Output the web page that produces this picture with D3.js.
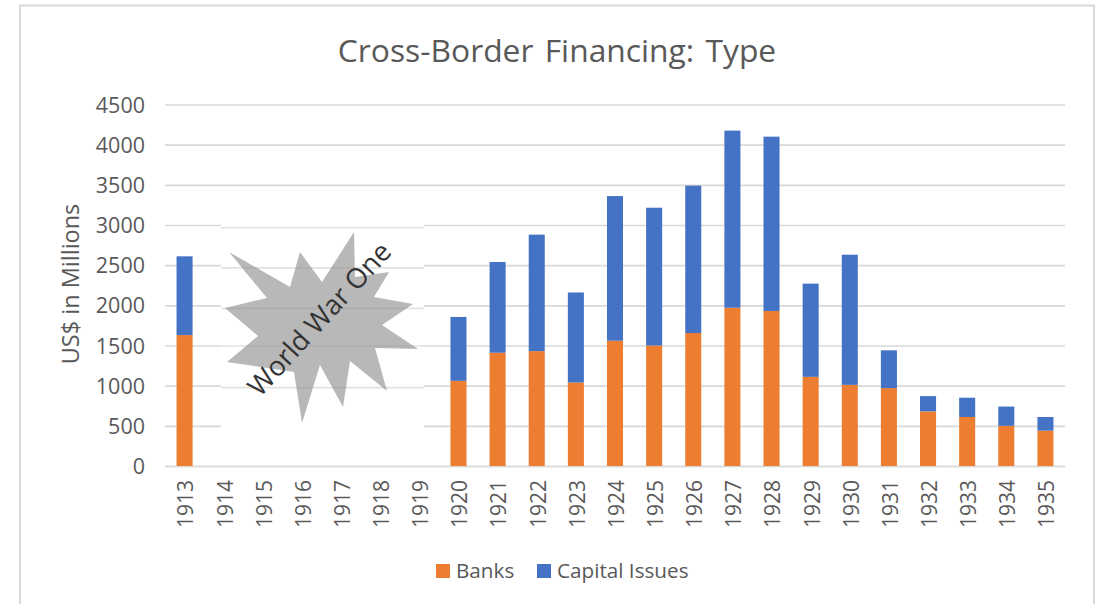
<!DOCTYPE html>
<html>
<head>
<meta charset="utf-8">
<script src="https://cdn.jsdelivr.net/npm/d3@7"></script>
<style>
  body { margin: 0; background: #fff; }
  text { font-family: "Open Sans", "Noto Sans", sans-serif; fill: #595959; }
</style>
</head>
<body>
<div id="chart"></div>
<script>
var years = d3.range(1913, 1936).map(String);
var barYears = ["1913","1920","1921","1922","1923","1924","1925","1926","1927","1928","1929","1930","1931","1932","1933","1934","1935"];
var banks = [1630,1060,1410,1430,1040,1560,1500,1655,1970,1930,1110,1010,970,680,610,500,440];
var capitalIssues = [980,795,1130,1450,1120,1800,1715,1835,2205,2170,1160,1620,470,190,240,240,170];
var yTicks = [0,500,1000,1500,2000,2500,3000,3500,4000,4500];
var legendNames = ["Banks", "Capital Issues"];

var svgWidth = 1107;
var svgHeight = 604;
var margin = { top: 104.5, right: 42, bottom: 138, left: 165 };
var chartWidth = svgWidth - margin.left - margin.right;
var chartHeight = svgHeight - margin.top - margin.bottom;

var orange = "#ed7d31";
var blue = "#4472c4";
var grid = "#d9d9d9";

var svg = d3.select("#chart")
  .append("svg")
  .attr("width", svgWidth)
  .attr("height", svgHeight)
  .style("display", "block");

// outer chart frame, runs off the bottom of the picture
svg.append("path")
  .attr("d", "M20,606V5.5H1094V606")
  .attr("fill", "none")
  .attr("stroke", grid)
  .attr("stroke-width", 2);

svg.append("text")
  .attr("x", 557)
  .attr("y", 62)
  .attr("text-anchor", "middle")
  .style("font-size", "31.8px")
  .style("word-spacing", "3px")
  .text("Cross-Border Financing: Type");

var chartGroup = svg.append("g")
  .attr("transform", `translate(${margin.left}, ${margin.top})`);

var xScale = d3.scaleBand()
  .domain(years)
  .range([0, chartWidth])
  .paddingInner(0.59)
  .paddingOuter(0.295);

var yScale = d3.scaleLinear()
  .domain([0, 4500])
  .range([chartHeight, 0]);

// gridlines
var yAxis = d3.axisLeft(yScale).tickValues(yTicks).tickSize(-chartWidth).tickPadding(20).tickFormat(d3.format("d"));
var yG = chartGroup.append("g").call(yAxis);
yG.select(".domain").remove();
yG.selectAll("line").attr("stroke", grid).attr("stroke-width", 1.6);
yG.selectAll("text").style("font-size", "21.5px").attr("dy", "0.35em");

// the pasted patch behind the star: it hides the grid and carries its own slightly offset lines
var patchLeft = xScale.step() * 1.43;
var patchRight = xScale.step() * 6.62;
var patchLines = [
  { value: 1000, shift: 2 },
  { value: 1500, shift: 0.5 },
  { value: 2000, shift: 3 },
  { value: 2500, shift: 2.7 },
  { value: 3000, shift: 2.7 }
];
chartGroup.append("rect")
  .attr("x", patchLeft)
  .attr("width", patchRight - patchLeft)
  .attr("y", yScale(3100))
  .attr("height", yScale(450) - yScale(3100))
  .attr("fill", "#fff");
chartGroup.selectAll(".patch-line")
  .data(patchLines)
  .enter()
  .append("line")
  .attr("class", "patch-line")
  .attr("x1", patchLeft)
  .attr("x2", patchRight)
  .attr("y1", d => yScale(d.value) + d.shift)
  .attr("y2", d => yScale(d.value) + d.shift)
  .attr("stroke", "#e2e2e2")
  .attr("stroke-width", 1.6);

// x axis
var xAxis = d3.axisBottom(xScale).tickSize(0).tickPadding(0);
var xG = chartGroup.append("g")
  .attr("transform", `translate(0, ${chartHeight})`)
  .call(xAxis);
xG.select(".domain").attr("stroke", grid).attr("stroke-width", 1.6);
xG.selectAll("text")
  .style("font-size", "21px")
  .attr("text-anchor", "end")
  .attr("transform", "translate(1.5, 14) rotate(-90)")
  .attr("x", 0)
  .attr("y", 0)
  .attr("dy", "0.35em");

// stacked bars
var stackRows = barYears.map(function(year, i) {
  return { year: year, banks: banks[i], capital: capitalIssues[i] };
});
var stacked = d3.stack().keys(["banks", "capital"])(stackRows);
var colors = { banks: orange, capital: blue };

chartGroup.selectAll(".series")
  .data(stacked)
  .enter()
  .append("g")
  .attr("class", "series")
  .attr("fill", d => colors[d.key])
  .selectAll("rect")
  .data(d => d)
  .enter()
  .append("rect")
  .attr("x", d => xScale(d.data.year))
  .attr("width", xScale.bandwidth())
  .attr("y", d => yScale(d[1]))
  .attr("height", d => yScale(d[0]) - yScale(d[1]));

// axis title
svg.append("text")
  .attr("transform", "translate(79, 284) rotate(-90)")
  .attr("text-anchor", "middle")
  .style("font-size", "23.5px")
  .text("US$ in Millions");

// legend
var legendX = [436, 537];
var legend = svg.selectAll(".legend-item")
  .data(legendNames)
  .enter()
  .append("g")
  .attr("class", "legend-item")
  .attr("transform", (d, i) => `translate(${legendX[i]}, 564)`);
legend.append("rect")
  .attr("width", 14)
  .attr("height", 14)
  .attr("fill", (d, i) => i === 0 ? orange : blue);
legend.append("text")
  .attr("x", 20)
  .attr("y", 14)
  .style("font-size", "20.7px")
  .text(d => d);

// World War One callout
var star = [[354,232],[355,277],[389,272],[374,297],[413,304],[382,325],[418,349],[375,348],[387,391],[350,361],[343,407],[320,365],[302,423],[294,372],[227,362],[258,336],[225,308],[267,298],[229,252],[290,287],[300,252],[322,282]];
svg.append("polygon")
  .attr("points", star.map(p => p.join(",")).join(" "))
  .attr("fill", "#8c8c8c")
  .attr("fill-opacity", 0.62);

svg.append("text")
  .attr("transform", "translate(260, 398) rotate(-47.5)")
  .style("font-size", "27.5px")
  .style("fill", "#333")
  .text("World War One");
</script>
</body>
</html>
